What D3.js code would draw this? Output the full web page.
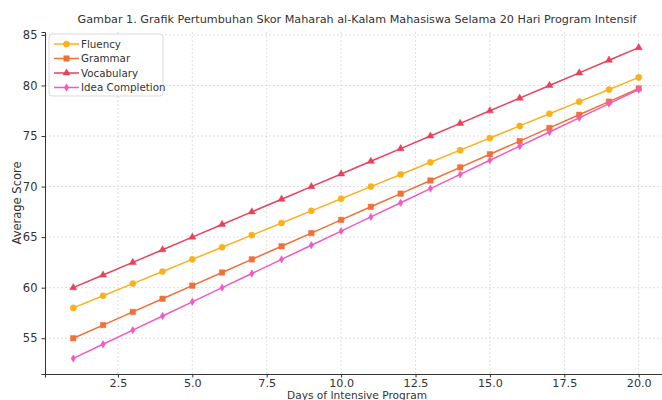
<!DOCTYPE html>
<html><head><meta charset="utf-8">
<script src="https://cdn.jsdelivr.net/npm/d3@7/dist/d3.min.js"></script>
<style>body{margin:0;background:#fff;} svg{display:block;font-family:"DejaVu Sans",sans-serif;}</style>
</head><body>
<svg id="c" width="662" height="400"></svg>
<script>
const days = [1,2,3,4,5,6,7,8,9,10,11,12,13,14,15,16,17,18,19,20];
const fluency = [58,59.2,60.4,61.6,62.8,64,65.2,66.4,67.6,68.8,70,71.2,72.4,73.6,74.8,76,77.2,78.4,79.6,80.8];
const grammar = [55,56.3,57.6,58.9,60.2,61.5,62.8,64.1,65.4,66.7,68,69.3,70.6,71.9,73.2,74.5,75.8,77.1,78.4,79.7];
const vocabulary = [60,61.25,62.5,63.75,65,66.25,67.5,68.75,70,71.25,72.5,73.75,75,76.25,77.5,78.75,80,81.25,82.5,83.75];
const idea = [53,54.4,55.8,57.2,58.6,60,61.4,62.8,64.2,65.6,67,68.4,69.8,71.2,72.6,74,75.4,76.8,78.2,79.6];
const seriesNames = ["Fluency","Grammar","Vocabulary","Idea Completion"];
const xTicks = [2.5,5,7.5,10,12.5,15,17.5,20];
const yTicks = [55,60,65,70,75,80,85];
const titleText = "Gambar 1. Grafik Pertumbuhan Skor Maharah al-Kalam Mahasiswa Selama 20 Hari Program Intensif";

const series = [
  {name: seriesNames[0], values: fluency, color: "#fbb11c", marker: "circle"},
  {name: seriesNames[1], values: grammar, color: "#f07036", marker: "square"},
  {name: seriesNames[2], values: vocabulary, color: "#e8415c", marker: "triangle"},
  {name: seriesNames[3], values: idea, color: "#f05ac2", marker: "diamond"}
];

const svg = d3.select("#c");
const L = 45, R = 667, T = 32, B = 374;
const x = d3.scaleLinear().domain([0.05, 20.95]).range([L, R]);
const y = d3.scaleLinear().domain([51.46, 85.29]).range([B, T]);

// grid
const g = svg.append("g");
g.selectAll(".gx").data(xTicks).enter().append("line")
  .attr("x1", d => x(d)).attr("x2", d => x(d)).attr("y1", T).attr("y2", B)
  .attr("stroke", "#d6d6d6").attr("stroke-width", 0.8).attr("stroke-dasharray", "2,2");
g.selectAll(".gy").data(yTicks).enter().append("line")
  .attr("x1", L).attr("x2", R).attr("y1", d => y(d)).attr("y2", d => y(d))
  .attr("stroke", "#d6d6d6").attr("stroke-width", 0.8).attr("stroke-dasharray", "2,2");

// axes
const xAxis = svg.append("g").attr("transform", `translate(0,${B})`)
  .call(d3.axisBottom(x).tickValues(xTicks).tickFormat(d3.format(".1f")).tickSizeOuter(0).tickSize(3.5).tickPadding(1.5));
const yAxis = svg.append("g").attr("transform", `translate(${L},0)`)
  .call(d3.axisLeft(y).tickValues(yTicks).tickFormat(d3.format("d")).tickSizeOuter(0).tickSize(3.5).tickPadding(4));
xAxis.selectAll("text").attr("font-size", 11.2);
yAxis.selectAll("text").attr("font-size", 11.5);
[xAxis, yAxis].forEach(a => {
  a.selectAll("text").attr("fill", "#333").attr("font-family", "DejaVu Sans, sans-serif");
  a.selectAll("line").attr("stroke", "#333");
  a.select(".domain").attr("stroke", "#333").attr("stroke-width", 1);
});

const symType = {circle: d3.symbolCircle, square: d3.symbolSquare, triangle: d3.symbolTriangle, diamond: d3.symbolDiamond2};
const symSize = {circle: 30, square: 30, triangle: 22, diamond: 22};
function drawMarker(sel, s) {
  const p = d3.symbol().type(symType[s.marker]).size(symSize[s.marker]);
  sel.attr("d", p).attr("fill", s.color).attr("stroke", s.color).attr("stroke-width", 0.5);
  if (s.marker === "diamond") sel.attr("transform", function(){ return (d3.select(this).attr("transform")||"") + " scale(0.75,1.25)"; });
}

const line = d3.line().x((d,i) => x(days[i])).y(d => y(d));
series.forEach(s => {
  svg.append("path").datum(s.values).attr("d", line).attr("fill", "none")
    .attr("stroke", s.color).attr("stroke-width", 1.5);
  svg.selectAll(null).data(s.values).enter().append("path")
    .attr("transform", (d,i) => `translate(${x(days[i])},${y(d)})`)
    .each(function(){ drawMarker(d3.select(this), s); });
});

// legend
const lg = svg.append("g");
lg.append("rect").attr("x", 49).attr("y", 34).attr("width", 114).attr("height", 62).attr("rx", 3)
  .attr("fill", "#fff").attr("fill-opacity", 0.85).attr("stroke", "#d0d0d0").attr("stroke-width", 0.8);
series.forEach((s, i) => {
  const yy = 44 + i * 14.5;
  lg.append("line").attr("x1", 54).attr("x2", 79).attr("y1", yy).attr("y2", yy)
    .attr("stroke", s.color).attr("stroke-width", 1.5);
  lg.append("path").attr("transform", `translate(66.5,${yy})`).each(function(){ drawMarker(d3.select(this), s); });
  lg.append("text").attr("x", 81).attr("y", yy + 3.8).attr("font-size", 10.3).attr("fill", "#333").text(s.name);
});

// labels
svg.append("text").attr("x", 357).attr("y", 23).attr("text-anchor", "middle")
  .attr("font-size", 11.2).attr("fill", "#333").text(titleText);
svg.append("text").attr("x", 357).attr("y", 398.5).attr("text-anchor", "middle")
  .attr("font-size", 10.6).attr("fill", "#333").text("Days of Intensive Program");
svg.append("text").attr("transform", "translate(21,203) rotate(-90)").attr("text-anchor", "middle")
  .attr("font-size", 11.5).attr("fill", "#333").text("Average Score");
</script>
</body></html>
